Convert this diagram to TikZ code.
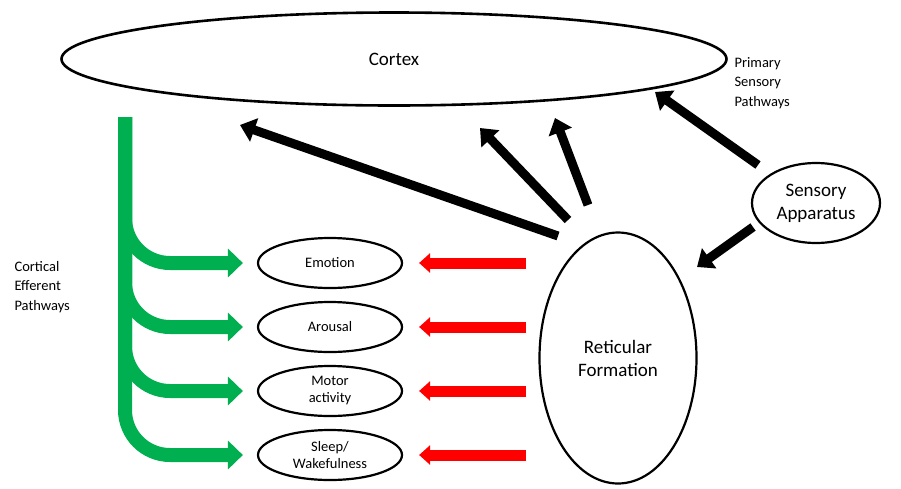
\documentclass[tikz,border=0pt]{standalone}
\usepackage{fontspec}
\setmainfont{Carlito}
\usetikzlibrary{arrows.meta,shapes.geometric}
\definecolor{effgreen}{HTML}{00B050}
\definecolor{retred}{HTML}{FF0000}

\begin{document}
\begin{tikzpicture}[x=1pt,y=-1pt,
 oval/.style={draw,ellipse,line width=2.2pt,inner sep=0pt,align=center,font=\fontsize{19}{23}\selectfont},
 state/.style={draw,ellipse,line width=2.2pt,inner sep=0pt,align=center,font=\fontsize{14.5}{17}\selectfont,
 minimum width=144pt,minimum height=50pt},
 note/.style={align=left,anchor=west,font=\fontsize{14.5}{19.5}\selectfont},
 efferent/.style={effgreen,line width=14pt,rounded corners=45pt,-{Triangle[length=15pt,width=28pt]},shorten >=14pt},
 inhib/.style={retred,line width=11pt,-{Triangle[length=11pt,width=19pt]},shorten >=16pt},
 pathway/.style={black,line width=9pt,-{Triangle[length=15pt,width=24pt]}}]
\useasboundingbox (0,0) rectangle (901,488);
\node[oval,line width=2.6pt,minimum width=665pt,minimum height=93pt] (cortex) at (394,59) {Cortex};
\node[oval,minimum width=128pt,minimum height=80pt] (sensory) at (816,203) {Sensory\\Apparatus};
\node[oval,minimum width=157pt,minimum height=251pt] (ret) at (618,358) {Reticular\\Formation};
\node[state] (emo) at (330,263) {Emotion};
\node[state] (arou) at (330,327) {Arousal};
\node[state] (motor) at (330,391) {Motor\\activity};
\node[state] (sleep) at (330,455) {Sleep/\\Wakefulness};
\node[note] (primary) at (731,83) {Primary\\Sensory\\Pathways};
\node[note] (cortical) at (11,287) {Cortical\\Efferent\\Pathways};
\coordinate (trunk) at (125,117);
% cortical efferent pathways
\foreach \s in {emo,arou,motor,sleep}
  \draw[efferent] (trunk) |- (\s.west);
% reticular outputs
\foreach \s in {emo,arou,motor,sleep}
  \draw[inhib] ([xshift=-12pt]ret.west |- \s.east) -- (\s.east);
% ascending pathways
\draw[pathway] ([shift={(-60,-122)}]ret.center) -- ([shift={(-154,66)}]cortex.center);
\draw[pathway] ([shift={(-50,-138)}]ret.center) -- ([shift={(86,69)}]cortex.center);
\draw[pathway] ([shift={(-30,-153)}]ret.center) -- ([shift={(161,59)}]cortex.center);
\draw[pathway] ([shift={(-58,-38)}]sensory.center) -- ([shift={(261,33)}]cortex.center);
\draw[pathway] ([shift={(-63,24)}]sensory.center) -- ([shift={(79,-91)}]ret.center);
\end{tikzpicture}
\end{document}
